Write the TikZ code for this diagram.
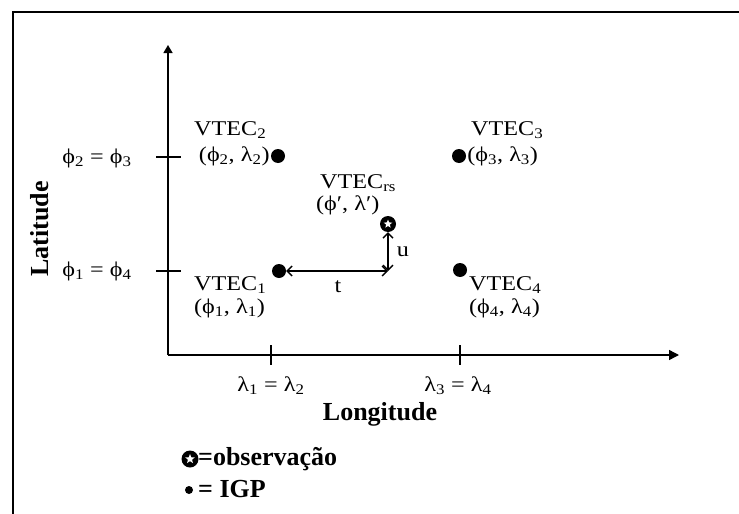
\documentclass[tikz,border=0pt]{standalone}
\usepackage{fontspec}
\setmainfont{Liberation Serif}
\usepackage{graphicx}
\usetikzlibrary{arrows.meta,shapes.geometric}
\newcommand{\wid}[1]{\scalebox{1.15}[1]{#1}}
\tikzset{
  lab/.style={inner sep=0pt, font=\fontsize{21}{21}\selectfont},
  blab/.style={inner sep=0pt, font=\fontsize{26}{26}\selectfont\bfseries},
  leg/.style={inner sep=0pt, font=\fontsize{26}{26}\selectfont\bfseries},
  igp/.style={circle, fill=black, inner sep=0pt, minimum size=14pt},
  obsmark/.style={circle, fill=black, inner sep=0pt, minimum size=16pt},
  axis/.style={line width=1.4pt},
  tick/.style={line width=1.2pt},
  dim/.style={line width=1.3pt, {Straight Barb[length=5pt,width=10pt]}-{Straight Barb[length=5pt,width=10pt]}},
}
\begin{document}
\begin{tikzpicture}[x=1pt,y=-1pt]
\useasboundingbox (0,0) rectangle (739,514);
% frame
\draw[line width=2.2pt] (13,514) -- (13,12) -- (739,12);
% axes
\coordinate (o) at (168,355);
\coordinate (ytop) at (168,45);
\coordinate (xend) at (679,355);
\draw[axis,-{Triangle[length=8pt,width=9pt]}] (o) -- (ytop);
\draw[axis,-{Triangle[length=10pt,width=10pt]}] (o) -- (xend);
% ticks
\coordinate (ya1) at (156,157); \coordinate (yb1) at (181,157);
\coordinate (ya2) at (156,271); \coordinate (yb2) at (181,271);
\coordinate (xa1) at (271,345); \coordinate (xb1) at (271,365);
\coordinate (xa2) at (460,345); \coordinate (xb2) at (460,365);
\draw[tick] (ya1) -- (yb1);
\draw[tick] (ya2) -- (yb2);
\draw[tick] (xa1) -- (xb1);
\draw[tick] (xa2) -- (xb2);
% tick labels
\node[lab] (p23) at (97,158) {\wid{ϕ\textsubscript{2} = ϕ\textsubscript{3}}};
\node[lab] (p14) at (97,271) {\wid{ϕ\textsubscript{1} = ϕ\textsubscript{4}}};
\node[lab] (l12) at (271,386) {\wid{λ\textsubscript{1} = λ\textsubscript{2}}};
\node[lab] (l34) at (458,386) {\wid{λ\textsubscript{3} = λ\textsubscript{4}}};
% axis titles
\node[blab, rotate=90] (lat) at (40,229) {Latitude};
\node[blab, anchor=base] (lon) at (380,420) {Longitude};
% IGP dots
\node[igp] (d2) at (278,156) {};
\node[igp] (d3) at (459,156) {};
\node[igp] (d1) at (279,271) {};
\node[igp] (d4) at (460,270) {};
% observation
\node[obsmark] (s) at (388,224) {};
\node[star, star points=5, star point ratio=2.3, fill=white, inner sep=0pt, minimum size=9pt] (sst) at (s) {};
% labels
\node[lab, anchor=base west] (v2a) at (194,135) {\wid{VTEC\textsubscript{2}}};
\node[lab, anchor=east] (v2b) at ([xshift=-1pt]d2.west) {\wid{(ϕ\textsubscript{2}, λ\textsubscript{2})}};
\node[lab, anchor=base west] (v3a) at (471,135) {\wid{VTEC\textsubscript{3}}};
\node[lab, anchor=west] (v3b) at ([xshift=1pt]d3.east) {\wid{(ϕ\textsubscript{3}, λ\textsubscript{3})}};
\node[lab, anchor=base west] (vra) at (320,188) {\wid{VTEC\textsubscript{rs}}};
\node[lab, anchor=west] (vrb) at (316,205) {\wid{(ϕ′, λ′)}};
\node[lab, anchor=base west] (v1a) at (194,290) {\wid{VTEC\textsubscript{1}}};
\node[lab, anchor=west] (v1b) at (194,308) {\wid{(ϕ\textsubscript{1}, λ\textsubscript{1})}};
\node[lab, anchor=base west] (v4a) at (469,290) {\wid{VTEC\textsubscript{4}}};
\node[lab, anchor=west] (v4b) at (469,308) {\wid{(ϕ\textsubscript{4}, λ\textsubscript{4})}};
% t and u dimensions
\coordinate (c) at (388,271);
\draw[dim] (d1) -- (c);
\draw[dim] (c) -- (s);
\node[lab] (tl) at (338,287) {\wid{t}};
\node[lab] (ul) at (403,252) {\wid{u}};
% legend
\node[obsmark, minimum size=17pt] (ls) at (190,459) {};
\node[star, star points=5, star point ratio=2.3, fill=white, inner sep=0pt, minimum size=10pt] (lsst) at (ls) {};
\node[leg, anchor=base west] (lo) at (198,465) {=observação};
\node[igp, minimum size=8pt] (ld) at (189,490) {};
\node[leg, anchor=base west] (li) at (198,497) {= IGP};
\end{tikzpicture}
\end{document}
